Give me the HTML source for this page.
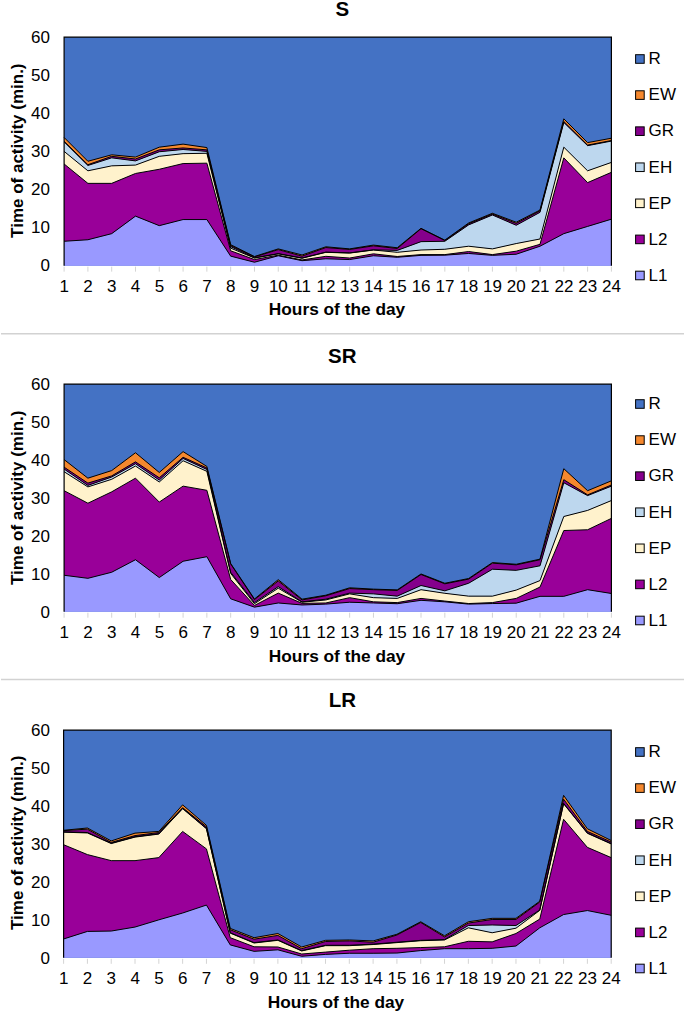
<!DOCTYPE html><html><head><meta charset="utf-8"><style>html,body{margin:0;padding:0;background:#fff;}body{width:685px;height:1013px;overflow:hidden;}svg{display:block;}text{font-family:"Liberation Sans",sans-serif;fill:#000;}</style></head><body>
<svg width="685" height="1013" viewBox="0 0 685 1013">
<g><rect x="64.1" y="37.1" width="547.3" height="228.55" fill="#4472C4"/><polygon points="64.1,241.27 87.9,239.75 111.69,233.65 135.49,216.13 159.28,225.65 183.08,219.56 206.87,219.56 230.67,256.13 254.47,262.22 278.26,255.75 302.06,260.7 325.85,258.79 349.65,259.56 373.44,255.75 397.24,257.27 421.03,255.37 444.83,255.17 468.63,253.46 492.42,255.37 516.22,254.22 540.01,246.22 563.81,233.65 587.6,226.42 611.4,219.18 611.4,265.65 587.6,265.65 563.81,265.65 540.01,265.65 516.22,265.65 492.42,265.65 468.63,265.65 444.83,265.65 421.03,265.65 397.24,265.65 373.44,265.65 349.65,265.65 325.85,265.65 302.06,265.65 278.26,265.65 254.47,265.65 230.67,265.65 206.87,265.65 183.08,265.65 159.28,265.65 135.49,265.65 111.69,265.65 87.9,265.65 64.1,265.65" fill="#9999FF"/><polygon points="64.1,163.95 87.9,183.37 111.69,183.37 135.49,173.47 159.28,169.28 183.08,163.56 206.87,163.18 230.67,250.79 254.47,259.56 278.26,255.17 302.06,259.94 325.85,256.32 349.65,258.03 373.44,253.84 397.24,256.51 421.03,254.6 444.83,254.6 468.63,251.56 492.42,254.6 516.22,251.18 540.01,244.32 563.81,157.85 587.6,182.61 611.4,172.33 611.4,219.18 587.6,226.42 563.81,233.65 540.01,246.22 516.22,254.22 492.42,255.37 468.63,253.46 444.83,255.17 421.03,255.37 397.24,257.27 373.44,255.75 349.65,259.56 325.85,258.79 302.06,260.7 278.26,255.75 254.47,262.22 230.67,256.13 206.87,219.56 183.08,219.56 159.28,225.65 135.49,216.13 111.69,233.65 87.9,239.75 64.1,241.27" fill="#990099"/><polygon points="64.1,151.38 87.9,170.8 111.69,165.85 135.49,165.09 159.28,156.33 183.08,153.66 206.87,153.28 230.67,248.13 254.47,258.03 278.26,253.84 302.06,258.22 325.85,252.32 349.65,253.08 373.44,250.03 397.24,252.32 421.03,250.03 444.83,249.27 468.63,246.22 492.42,248.89 516.22,243.56 540.01,238.99 563.81,147.18 587.6,170.8 611.4,162.42 611.4,172.33 587.6,182.61 563.81,157.85 540.01,244.32 516.22,251.18 492.42,254.6 468.63,251.56 444.83,254.6 421.03,254.6 397.24,256.51 373.44,253.84 349.65,258.03 325.85,256.32 302.06,259.94 278.26,255.17 254.47,259.56 230.67,250.79 206.87,163.18 183.08,163.56 159.28,169.28 135.49,173.47 111.69,183.37 87.9,183.37 64.1,163.95" fill="#FFF2CC"/><polygon points="64.1,141.85 87.9,165.47 111.69,157.85 135.49,160.9 159.28,151.76 183.08,149.47 206.87,151.38 230.67,246.6 254.47,257.84 278.26,253.65 302.06,258.03 325.85,252.13 349.65,252.89 373.44,249.84 397.24,250.41 421.03,241.65 444.83,241.27 468.63,224.89 492.42,214.99 516.22,225.27 540.01,212.32 563.81,122.43 587.6,145.66 611.4,141.09 611.4,162.42 587.6,170.8 563.81,147.18 540.01,238.99 516.22,243.56 492.42,248.89 468.63,246.22 444.83,249.27 421.03,250.03 397.24,252.32 373.44,250.03 349.65,253.08 325.85,252.32 302.06,258.22 278.26,253.84 254.47,258.03 230.67,248.13 206.87,153.28 183.08,153.66 159.28,156.33 135.49,165.09 111.69,165.85 87.9,170.8 64.1,151.38" fill="#BDD7EE"/><polygon points="64.1,141.28 87.9,164.71 111.69,156.33 135.49,158.99 159.28,149.85 183.08,147.95 206.87,149.85 230.67,245.46 254.47,256.89 278.26,249.65 302.06,256.13 325.85,247.56 349.65,249.46 373.44,245.84 397.24,248.51 421.03,228.7 444.83,240.51 468.63,223.75 492.42,214.04 516.22,223.37 540.01,210.8 563.81,121.47 587.6,145.09 611.4,140.52 611.4,141.09 587.6,145.66 563.81,122.43 540.01,212.32 516.22,225.27 492.42,214.99 468.63,224.89 444.83,241.27 421.03,241.65 397.24,250.41 373.44,249.84 349.65,252.89 325.85,252.13 302.06,258.03 278.26,253.65 254.47,257.84 230.67,246.6 206.87,151.38 183.08,149.47 159.28,151.76 135.49,160.9 111.69,157.85 87.9,165.47 64.1,141.85" fill="#85008C"/><polygon points="64.1,137.47 87.9,161.28 111.69,154.8 135.49,157.09 159.28,147.18 183.08,144.14 206.87,147.57 230.67,244.7 254.47,256.51 278.26,248.89 302.06,254.98 325.85,246.79 349.65,248.89 373.44,245.08 397.24,247.75 421.03,228.32 444.83,240.13 468.63,222.99 492.42,213.27 516.22,222.23 540.01,210.04 563.81,118.81 587.6,142.61 611.4,138.23 611.4,140.52 587.6,145.09 563.81,121.47 540.01,210.8 516.22,223.37 492.42,214.04 468.63,223.75 444.83,240.51 421.03,228.7 397.24,248.51 373.44,245.84 349.65,249.46 325.85,247.56 302.06,256.13 278.26,249.65 254.47,256.89 230.67,245.46 206.87,149.85 183.08,147.95 159.28,149.85 135.49,158.99 111.69,156.33 87.9,164.71 64.1,141.28" fill="#F5882E"/><polyline points="64.1,241.27 87.9,239.75 111.69,233.65 135.49,216.13 159.28,225.65 183.08,219.56 206.87,219.56 230.67,256.13 254.47,262.22 278.26,255.75 302.06,260.7 325.85,258.79 349.65,259.56 373.44,255.75 397.24,257.27 421.03,255.37 444.83,255.17 468.63,253.46 492.42,255.37 516.22,254.22 540.01,246.22 563.81,233.65 587.6,226.42 611.4,219.18" fill="none" stroke="#000" stroke-width="1"/><polyline points="64.1,163.95 87.9,183.37 111.69,183.37 135.49,173.47 159.28,169.28 183.08,163.56 206.87,163.18 230.67,250.79 254.47,259.56 278.26,255.17 302.06,259.94 325.85,256.32 349.65,258.03 373.44,253.84 397.24,256.51 421.03,254.6 444.83,254.6 468.63,251.56 492.42,254.6 516.22,251.18 540.01,244.32 563.81,157.85 587.6,182.61 611.4,172.33" fill="none" stroke="#000" stroke-width="1"/><polyline points="64.1,151.38 87.9,170.8 111.69,165.85 135.49,165.09 159.28,156.33 183.08,153.66 206.87,153.28 230.67,248.13 254.47,258.03 278.26,253.84 302.06,258.22 325.85,252.32 349.65,253.08 373.44,250.03 397.24,252.32 421.03,250.03 444.83,249.27 468.63,246.22 492.42,248.89 516.22,243.56 540.01,238.99 563.81,147.18 587.6,170.8 611.4,162.42" fill="none" stroke="#000" stroke-width="1"/><polyline points="64.1,141.85 87.9,165.47 111.69,157.85 135.49,160.9 159.28,151.76 183.08,149.47 206.87,151.38 230.67,246.6 254.47,257.84 278.26,253.65 302.06,258.03 325.85,252.13 349.65,252.89 373.44,249.84 397.24,250.41 421.03,241.65 444.83,241.27 468.63,224.89 492.42,214.99 516.22,225.27 540.01,212.32 563.81,122.43 587.6,145.66 611.4,141.09" fill="none" stroke="#000" stroke-width="1"/><polyline points="64.1,141.28 87.9,164.71 111.69,156.33 135.49,158.99 159.28,149.85 183.08,147.95 206.87,149.85 230.67,245.46 254.47,256.89 278.26,249.65 302.06,256.13 325.85,247.56 349.65,249.46 373.44,245.84 397.24,248.51 421.03,228.7 444.83,240.51 468.63,223.75 492.42,214.04 516.22,223.37 540.01,210.8 563.81,121.47 587.6,145.09 611.4,140.52" fill="none" stroke="#000" stroke-width="1"/><polyline points="64.1,137.47 87.9,161.28 111.69,154.8 135.49,157.09 159.28,147.18 183.08,144.14 206.87,147.57 230.67,244.7 254.47,256.51 278.26,248.89 302.06,254.98 325.85,246.79 349.65,248.89 373.44,245.08 397.24,247.75 421.03,228.32 444.83,240.13 468.63,222.99 492.42,213.27 516.22,222.23 540.01,210.04 563.81,118.81 587.6,142.61 611.4,138.23" fill="none" stroke="#000" stroke-width="1"/><polyline points="64.1,265.65 64.1,37.1 611.4,37.1 611.4,265.65" fill="none" stroke="#000" stroke-width="1.2"/><line x1="64.1" y1="266.65" x2="64.1" y2="271.65" stroke="#d4d4d4" stroke-width="1"/><line x1="87.9" y1="266.65" x2="87.9" y2="271.65" stroke="#d4d4d4" stroke-width="1"/><line x1="111.69" y1="266.65" x2="111.69" y2="271.65" stroke="#d4d4d4" stroke-width="1"/><line x1="135.49" y1="266.65" x2="135.49" y2="271.65" stroke="#d4d4d4" stroke-width="1"/><line x1="159.28" y1="266.65" x2="159.28" y2="271.65" stroke="#d4d4d4" stroke-width="1"/><line x1="183.08" y1="266.65" x2="183.08" y2="271.65" stroke="#d4d4d4" stroke-width="1"/><line x1="206.87" y1="266.65" x2="206.87" y2="271.65" stroke="#d4d4d4" stroke-width="1"/><line x1="230.67" y1="266.65" x2="230.67" y2="271.65" stroke="#d4d4d4" stroke-width="1"/><line x1="254.47" y1="266.65" x2="254.47" y2="271.65" stroke="#d4d4d4" stroke-width="1"/><line x1="278.26" y1="266.65" x2="278.26" y2="271.65" stroke="#d4d4d4" stroke-width="1"/><line x1="302.06" y1="266.65" x2="302.06" y2="271.65" stroke="#d4d4d4" stroke-width="1"/><line x1="325.85" y1="266.65" x2="325.85" y2="271.65" stroke="#d4d4d4" stroke-width="1"/><line x1="349.65" y1="266.65" x2="349.65" y2="271.65" stroke="#d4d4d4" stroke-width="1"/><line x1="373.44" y1="266.65" x2="373.44" y2="271.65" stroke="#d4d4d4" stroke-width="1"/><line x1="397.24" y1="266.65" x2="397.24" y2="271.65" stroke="#d4d4d4" stroke-width="1"/><line x1="421.03" y1="266.65" x2="421.03" y2="271.65" stroke="#d4d4d4" stroke-width="1"/><line x1="444.83" y1="266.65" x2="444.83" y2="271.65" stroke="#d4d4d4" stroke-width="1"/><line x1="468.63" y1="266.65" x2="468.63" y2="271.65" stroke="#d4d4d4" stroke-width="1"/><line x1="492.42" y1="266.65" x2="492.42" y2="271.65" stroke="#d4d4d4" stroke-width="1"/><line x1="516.22" y1="266.65" x2="516.22" y2="271.65" stroke="#d4d4d4" stroke-width="1"/><line x1="540.01" y1="266.65" x2="540.01" y2="271.65" stroke="#d4d4d4" stroke-width="1"/><line x1="563.81" y1="266.65" x2="563.81" y2="271.65" stroke="#d4d4d4" stroke-width="1"/><line x1="587.6" y1="266.65" x2="587.6" y2="271.65" stroke="#d4d4d4" stroke-width="1"/><line x1="611.4" y1="266.65" x2="611.4" y2="271.65" stroke="#d4d4d4" stroke-width="1"/><text x="50" y="271.45" font-size="17" text-anchor="end">0</text><text x="50" y="233.36" font-size="17" text-anchor="end">10</text><text x="50" y="195.27" font-size="17" text-anchor="end">20</text><text x="50" y="157.18" font-size="17" text-anchor="end">30</text><text x="50" y="119.08" font-size="17" text-anchor="end">40</text><text x="50" y="80.99" font-size="17" text-anchor="end">50</text><text x="50" y="42.9" font-size="17" text-anchor="end">60</text><text x="64.2" y="291.65" font-size="17" text-anchor="middle">1</text><text x="88" y="291.65" font-size="17" text-anchor="middle">2</text><text x="111.79" y="291.65" font-size="17" text-anchor="middle">3</text><text x="135.59" y="291.65" font-size="17" text-anchor="middle">4</text><text x="159.38" y="291.65" font-size="17" text-anchor="middle">5</text><text x="183.18" y="291.65" font-size="17" text-anchor="middle">6</text><text x="206.97" y="291.65" font-size="17" text-anchor="middle">7</text><text x="230.77" y="291.65" font-size="17" text-anchor="middle">8</text><text x="254.57" y="291.65" font-size="17" text-anchor="middle">9</text><text x="278.36" y="291.65" font-size="17" text-anchor="middle">10</text><text x="302.16" y="291.65" font-size="17" text-anchor="middle">11</text><text x="325.95" y="291.65" font-size="17" text-anchor="middle">12</text><text x="349.75" y="291.65" font-size="17" text-anchor="middle">13</text><text x="373.54" y="291.65" font-size="17" text-anchor="middle">14</text><text x="397.34" y="291.65" font-size="17" text-anchor="middle">15</text><text x="421.13" y="291.65" font-size="17" text-anchor="middle">16</text><text x="444.93" y="291.65" font-size="17" text-anchor="middle">17</text><text x="468.73" y="291.65" font-size="17" text-anchor="middle">18</text><text x="492.52" y="291.65" font-size="17" text-anchor="middle">19</text><text x="516.32" y="291.65" font-size="17" text-anchor="middle">20</text><text x="540.11" y="291.65" font-size="17" text-anchor="middle">21</text><text x="563.91" y="291.65" font-size="17" text-anchor="middle">22</text><text x="587.7" y="291.65" font-size="17" text-anchor="middle">23</text><text x="611.5" y="291.65" font-size="17" text-anchor="middle">24</text><text x="337" y="315.2" font-size="17.3" font-weight="bold" text-anchor="middle">Hours of the day</text><text transform="translate(23.3,150.7) rotate(-90)" font-size="17" font-weight="bold" text-anchor="middle">Time of activity (min.)</text><text x="342.3" y="15.9" font-size="20.5" font-weight="bold" text-anchor="middle">S</text><rect x="635.6" y="54.7" width="8.6" height="8.6" fill="#4472C4" stroke="#000" stroke-width="1"/><text x="648.6" y="64.3" font-size="17">R</text><rect x="635.6" y="90.78" width="8.6" height="8.6" fill="#F5882E" stroke="#000" stroke-width="1"/><text x="648.6" y="100.38" font-size="17">EW</text><rect x="635.6" y="126.86" width="8.6" height="8.6" fill="#85008C" stroke="#000" stroke-width="1"/><text x="648.6" y="136.46" font-size="17">GR</text><rect x="635.6" y="162.94" width="8.6" height="8.6" fill="#BDD7EE" stroke="#000" stroke-width="1"/><text x="648.6" y="172.54" font-size="17">EH</text><rect x="635.6" y="199.02" width="8.6" height="8.6" fill="#FFF2CC" stroke="#000" stroke-width="1"/><text x="648.6" y="208.62" font-size="17">EP</text><rect x="635.6" y="235.1" width="8.6" height="8.6" fill="#990099" stroke="#000" stroke-width="1"/><text x="648.6" y="244.7" font-size="17">L2</text><rect x="635.6" y="271.18" width="8.6" height="8.6" fill="#9999FF" stroke="#000" stroke-width="1"/><text x="648.6" y="280.78" font-size="17">L1</text></g>
<g><rect x="64.1" y="384.1" width="547.3" height="227.6" fill="#4472C4"/><polygon points="64.1,575.28 87.9,578.32 111.69,572.25 135.49,559.73 159.28,577.56 183.08,561.25 206.87,556.7 230.67,598.8 254.47,607.15 278.26,602.98 302.06,604.99 325.85,604.11 349.65,602.22 373.44,602.98 397.24,603.73 421.03,600.32 444.83,601.84 468.63,604.11 492.42,603.54 516.22,603.17 540.01,596.34 563.81,596.34 587.6,589.7 611.4,593.49 611.4,611.7 587.6,611.7 563.81,611.7 540.01,611.7 516.22,611.7 492.42,611.7 468.63,611.7 444.83,611.7 421.03,611.7 397.24,611.7 373.44,611.7 349.65,611.7 325.85,611.7 302.06,611.7 278.26,611.7 254.47,611.7 230.67,611.7 206.87,611.7 183.08,611.7 159.28,611.7 135.49,611.7 111.69,611.7 87.9,611.7 64.1,611.7" fill="#9999FF"/><polygon points="64.1,490.69 87.9,503.21 111.69,491.83 135.49,478.17 159.28,502.07 183.08,486.14 206.87,490.31 230.67,579.46 254.47,605.44 278.26,593.11 302.06,603.35 325.85,602.98 349.65,597.66 373.44,601.84 397.24,602.6 421.03,598.42 444.83,601.08 468.63,603.54 492.42,602.6 516.22,598.42 540.01,587.04 563.81,530.52 587.6,529.76 611.4,518.38 611.4,593.49 587.6,589.7 563.81,596.34 540.01,596.34 516.22,603.17 492.42,603.54 468.63,604.11 444.83,601.84 421.03,600.32 397.24,603.73 373.44,602.98 349.65,602.22 325.85,604.11 302.06,604.99 278.26,602.98 254.47,607.15 230.67,598.8 206.87,556.7 183.08,561.25 159.28,577.56 135.49,559.73 111.69,572.25 87.9,578.32 64.1,575.28" fill="#990099"/><polygon points="64.1,471.73 87.9,486.9 111.69,479.31 135.49,466.04 159.28,481.97 183.08,460.73 206.87,471.35 230.67,573.39 254.47,603.73 278.26,588.18 302.06,602.22 325.85,599.94 349.65,593.87 373.44,597.66 397.24,598.42 421.03,589.7 444.83,593.3 468.63,596.15 492.42,596.15 516.22,590.08 540.01,580.59 563.81,516.49 587.6,510.42 611.4,500.56 611.4,518.38 587.6,529.76 563.81,530.52 540.01,587.04 516.22,598.42 492.42,602.6 468.63,603.54 444.83,601.08 421.03,598.42 397.24,602.6 373.44,601.84 349.65,597.66 325.85,602.98 302.06,603.35 278.26,593.11 254.47,605.44 230.67,579.46 206.87,490.31 183.08,486.14 159.28,502.07 135.49,478.17 111.69,491.83 87.9,503.21 64.1,490.69" fill="#FFF2CC"/><polygon points="64.1,469.07 87.9,485.38 111.69,477.04 135.49,463.76 159.28,480.07 183.08,458.45 206.87,469.45 230.67,572.25 254.47,602.6 278.26,586.66 302.06,601.84 325.85,599.18 349.65,593.11 373.44,593.87 397.24,596.15 421.03,585.53 444.83,590.84 468.63,583.25 492.42,569.21 516.22,570.35 540.01,565.8 563.81,482.73 587.6,495.62 611.4,486.14 611.4,500.56 587.6,510.42 563.81,516.49 540.01,580.59 516.22,590.08 492.42,596.15 468.63,596.15 444.83,593.3 421.03,589.7 397.24,598.42 373.44,597.66 349.65,593.87 325.85,599.94 302.06,602.22 278.26,588.18 254.47,603.73 230.67,573.39 206.87,471.35 183.08,460.73 159.28,481.97 135.49,466.04 111.69,479.31 87.9,486.9 64.1,471.73" fill="#BDD7EE"/><polygon points="64.1,467.17 87.9,483.11 111.69,475.9 135.49,461.86 159.28,477.8 183.08,457.31 206.87,467.93 230.67,563.9 254.47,599.56 278.26,580.97 302.06,599.94 325.85,595.77 349.65,588.56 373.44,589.7 397.24,590.46 421.03,574.53 444.83,583.82 468.63,579.08 492.42,563.15 516.22,564.85 540.01,559.73 563.81,479.69 587.6,494.87 611.4,485 611.4,486.14 587.6,495.62 563.81,482.73 540.01,565.8 516.22,570.35 492.42,569.21 468.63,583.25 444.83,590.84 421.03,585.53 397.24,596.15 373.44,593.87 349.65,593.11 325.85,599.18 302.06,601.84 278.26,586.66 254.47,602.6 230.67,572.25 206.87,469.45 183.08,458.45 159.28,480.07 135.49,463.76 111.69,477.04 87.9,485.38 64.1,469.07" fill="#85008C"/><polygon points="64.1,459.59 87.9,478.17 111.69,470.59 135.49,452.76 159.28,472.48 183.08,451.62 206.87,466.42 230.67,563.52 254.47,598.99 278.26,579.65 302.06,599.18 325.85,595.2 349.65,587.8 373.44,589.13 397.24,589.89 421.03,573.96 444.83,583.25 468.63,578.51 492.42,562.58 516.22,564.28 540.01,559.16 563.81,468.69 587.6,490.69 611.4,480.83 611.4,485 587.6,494.87 563.81,479.69 540.01,559.73 516.22,564.85 492.42,563.15 468.63,579.08 444.83,583.82 421.03,574.53 397.24,590.46 373.44,589.7 349.65,588.56 325.85,595.77 302.06,599.94 278.26,580.97 254.47,599.56 230.67,563.9 206.87,467.93 183.08,457.31 159.28,477.8 135.49,461.86 111.69,475.9 87.9,483.11 64.1,467.17" fill="#F5882E"/><polyline points="64.1,575.28 87.9,578.32 111.69,572.25 135.49,559.73 159.28,577.56 183.08,561.25 206.87,556.7 230.67,598.8 254.47,607.15 278.26,602.98 302.06,604.99 325.85,604.11 349.65,602.22 373.44,602.98 397.24,603.73 421.03,600.32 444.83,601.84 468.63,604.11 492.42,603.54 516.22,603.17 540.01,596.34 563.81,596.34 587.6,589.7 611.4,593.49" fill="none" stroke="#000" stroke-width="1"/><polyline points="64.1,490.69 87.9,503.21 111.69,491.83 135.49,478.17 159.28,502.07 183.08,486.14 206.87,490.31 230.67,579.46 254.47,605.44 278.26,593.11 302.06,603.35 325.85,602.98 349.65,597.66 373.44,601.84 397.24,602.6 421.03,598.42 444.83,601.08 468.63,603.54 492.42,602.6 516.22,598.42 540.01,587.04 563.81,530.52 587.6,529.76 611.4,518.38" fill="none" stroke="#000" stroke-width="1"/><polyline points="64.1,471.73 87.9,486.9 111.69,479.31 135.49,466.04 159.28,481.97 183.08,460.73 206.87,471.35 230.67,573.39 254.47,603.73 278.26,588.18 302.06,602.22 325.85,599.94 349.65,593.87 373.44,597.66 397.24,598.42 421.03,589.7 444.83,593.3 468.63,596.15 492.42,596.15 516.22,590.08 540.01,580.59 563.81,516.49 587.6,510.42 611.4,500.56" fill="none" stroke="#000" stroke-width="1"/><polyline points="64.1,469.07 87.9,485.38 111.69,477.04 135.49,463.76 159.28,480.07 183.08,458.45 206.87,469.45 230.67,572.25 254.47,602.6 278.26,586.66 302.06,601.84 325.85,599.18 349.65,593.11 373.44,593.87 397.24,596.15 421.03,585.53 444.83,590.84 468.63,583.25 492.42,569.21 516.22,570.35 540.01,565.8 563.81,482.73 587.6,495.62 611.4,486.14" fill="none" stroke="#000" stroke-width="1"/><polyline points="64.1,467.17 87.9,483.11 111.69,475.9 135.49,461.86 159.28,477.8 183.08,457.31 206.87,467.93 230.67,563.9 254.47,599.56 278.26,580.97 302.06,599.94 325.85,595.77 349.65,588.56 373.44,589.7 397.24,590.46 421.03,574.53 444.83,583.82 468.63,579.08 492.42,563.15 516.22,564.85 540.01,559.73 563.81,479.69 587.6,494.87 611.4,485" fill="none" stroke="#000" stroke-width="1"/><polyline points="64.1,459.59 87.9,478.17 111.69,470.59 135.49,452.76 159.28,472.48 183.08,451.62 206.87,466.42 230.67,563.52 254.47,598.99 278.26,579.65 302.06,599.18 325.85,595.2 349.65,587.8 373.44,589.13 397.24,589.89 421.03,573.96 444.83,583.25 468.63,578.51 492.42,562.58 516.22,564.28 540.01,559.16 563.81,468.69 587.6,490.69 611.4,480.83" fill="none" stroke="#000" stroke-width="1"/><polyline points="64.1,611.7 64.1,384.1 611.4,384.1 611.4,611.7" fill="none" stroke="#000" stroke-width="1.2"/><line x1="64.1" y1="612.7" x2="64.1" y2="617.7" stroke="#d4d4d4" stroke-width="1"/><line x1="87.9" y1="612.7" x2="87.9" y2="617.7" stroke="#d4d4d4" stroke-width="1"/><line x1="111.69" y1="612.7" x2="111.69" y2="617.7" stroke="#d4d4d4" stroke-width="1"/><line x1="135.49" y1="612.7" x2="135.49" y2="617.7" stroke="#d4d4d4" stroke-width="1"/><line x1="159.28" y1="612.7" x2="159.28" y2="617.7" stroke="#d4d4d4" stroke-width="1"/><line x1="183.08" y1="612.7" x2="183.08" y2="617.7" stroke="#d4d4d4" stroke-width="1"/><line x1="206.87" y1="612.7" x2="206.87" y2="617.7" stroke="#d4d4d4" stroke-width="1"/><line x1="230.67" y1="612.7" x2="230.67" y2="617.7" stroke="#d4d4d4" stroke-width="1"/><line x1="254.47" y1="612.7" x2="254.47" y2="617.7" stroke="#d4d4d4" stroke-width="1"/><line x1="278.26" y1="612.7" x2="278.26" y2="617.7" stroke="#d4d4d4" stroke-width="1"/><line x1="302.06" y1="612.7" x2="302.06" y2="617.7" stroke="#d4d4d4" stroke-width="1"/><line x1="325.85" y1="612.7" x2="325.85" y2="617.7" stroke="#d4d4d4" stroke-width="1"/><line x1="349.65" y1="612.7" x2="349.65" y2="617.7" stroke="#d4d4d4" stroke-width="1"/><line x1="373.44" y1="612.7" x2="373.44" y2="617.7" stroke="#d4d4d4" stroke-width="1"/><line x1="397.24" y1="612.7" x2="397.24" y2="617.7" stroke="#d4d4d4" stroke-width="1"/><line x1="421.03" y1="612.7" x2="421.03" y2="617.7" stroke="#d4d4d4" stroke-width="1"/><line x1="444.83" y1="612.7" x2="444.83" y2="617.7" stroke="#d4d4d4" stroke-width="1"/><line x1="468.63" y1="612.7" x2="468.63" y2="617.7" stroke="#d4d4d4" stroke-width="1"/><line x1="492.42" y1="612.7" x2="492.42" y2="617.7" stroke="#d4d4d4" stroke-width="1"/><line x1="516.22" y1="612.7" x2="516.22" y2="617.7" stroke="#d4d4d4" stroke-width="1"/><line x1="540.01" y1="612.7" x2="540.01" y2="617.7" stroke="#d4d4d4" stroke-width="1"/><line x1="563.81" y1="612.7" x2="563.81" y2="617.7" stroke="#d4d4d4" stroke-width="1"/><line x1="587.6" y1="612.7" x2="587.6" y2="617.7" stroke="#d4d4d4" stroke-width="1"/><line x1="611.4" y1="612.7" x2="611.4" y2="617.7" stroke="#d4d4d4" stroke-width="1"/><text x="50" y="617.5" font-size="17" text-anchor="end">0</text><text x="50" y="579.57" font-size="17" text-anchor="end">10</text><text x="50" y="541.63" font-size="17" text-anchor="end">20</text><text x="50" y="503.7" font-size="17" text-anchor="end">30</text><text x="50" y="465.77" font-size="17" text-anchor="end">40</text><text x="50" y="427.83" font-size="17" text-anchor="end">50</text><text x="50" y="389.9" font-size="17" text-anchor="end">60</text><text x="64.2" y="637.7" font-size="17" text-anchor="middle">1</text><text x="88" y="637.7" font-size="17" text-anchor="middle">2</text><text x="111.79" y="637.7" font-size="17" text-anchor="middle">3</text><text x="135.59" y="637.7" font-size="17" text-anchor="middle">4</text><text x="159.38" y="637.7" font-size="17" text-anchor="middle">5</text><text x="183.18" y="637.7" font-size="17" text-anchor="middle">6</text><text x="206.97" y="637.7" font-size="17" text-anchor="middle">7</text><text x="230.77" y="637.7" font-size="17" text-anchor="middle">8</text><text x="254.57" y="637.7" font-size="17" text-anchor="middle">9</text><text x="278.36" y="637.7" font-size="17" text-anchor="middle">10</text><text x="302.16" y="637.7" font-size="17" text-anchor="middle">11</text><text x="325.95" y="637.7" font-size="17" text-anchor="middle">12</text><text x="349.75" y="637.7" font-size="17" text-anchor="middle">13</text><text x="373.54" y="637.7" font-size="17" text-anchor="middle">14</text><text x="397.34" y="637.7" font-size="17" text-anchor="middle">15</text><text x="421.13" y="637.7" font-size="17" text-anchor="middle">16</text><text x="444.93" y="637.7" font-size="17" text-anchor="middle">17</text><text x="468.73" y="637.7" font-size="17" text-anchor="middle">18</text><text x="492.52" y="637.7" font-size="17" text-anchor="middle">19</text><text x="516.32" y="637.7" font-size="17" text-anchor="middle">20</text><text x="540.11" y="637.7" font-size="17" text-anchor="middle">21</text><text x="563.91" y="637.7" font-size="17" text-anchor="middle">22</text><text x="587.7" y="637.7" font-size="17" text-anchor="middle">23</text><text x="611.5" y="637.7" font-size="17" text-anchor="middle">24</text><text x="337" y="662" font-size="17.3" font-weight="bold" text-anchor="middle">Hours of the day</text><text transform="translate(22.6,497.8) rotate(-90)" font-size="17" font-weight="bold" text-anchor="middle">Time of activity (min.)</text><text x="342.3" y="362.6" font-size="20.5" font-weight="bold" text-anchor="middle">SR</text><rect x="635.6" y="399.7" width="8.6" height="8.6" fill="#4472C4" stroke="#000" stroke-width="1"/><text x="648.6" y="409.3" font-size="17">R</text><rect x="635.6" y="435.78" width="8.6" height="8.6" fill="#F5882E" stroke="#000" stroke-width="1"/><text x="648.6" y="445.38" font-size="17">EW</text><rect x="635.6" y="471.86" width="8.6" height="8.6" fill="#85008C" stroke="#000" stroke-width="1"/><text x="648.6" y="481.46" font-size="17">GR</text><rect x="635.6" y="507.94" width="8.6" height="8.6" fill="#BDD7EE" stroke="#000" stroke-width="1"/><text x="648.6" y="517.54" font-size="17">EH</text><rect x="635.6" y="544.02" width="8.6" height="8.6" fill="#FFF2CC" stroke="#000" stroke-width="1"/><text x="648.6" y="553.62" font-size="17">EP</text><rect x="635.6" y="580.1" width="8.6" height="8.6" fill="#990099" stroke="#000" stroke-width="1"/><text x="648.6" y="589.7" font-size="17">L2</text><rect x="635.6" y="616.18" width="8.6" height="8.6" fill="#9999FF" stroke="#000" stroke-width="1"/><text x="648.6" y="625.78" font-size="17">L1</text></g>
<g><rect x="63.6" y="730.1" width="547.6" height="227.7" fill="#4472C4"/><polygon points="63.6,938.98 87.41,931.42 111.22,931.05 135.03,927.06 158.83,919.85 182.64,913.02 206.45,905.05 230.26,944.9 254.07,951.35 277.88,949.83 301.69,956.28 325.5,954.38 349.3,953.25 373.11,953.25 396.92,953.06 420.73,950.59 444.54,948.69 468.35,948.69 492.16,948.31 515.97,946.04 539.77,927.82 563.58,914.54 587.39,910.55 611.2,915.3 611.2,957.8 587.39,957.8 563.58,957.8 539.77,957.8 515.97,957.8 492.16,957.8 468.35,957.8 444.54,957.8 420.73,957.8 396.92,957.8 373.11,957.8 349.3,957.8 325.5,957.8 301.69,957.8 277.88,957.8 254.07,957.8 230.26,957.8 206.45,957.8 182.64,957.8 158.83,957.8 135.03,957.8 111.22,957.8 87.41,957.8 63.6,957.8" fill="#9999FF"/><polygon points="63.6,844.71 87.41,854.58 111.22,860.65 135.03,860.65 158.83,857.61 182.64,831.43 206.45,848.88 230.26,937.69 254.07,946.79 277.88,946.98 301.69,954 325.5,952.11 349.3,950.21 373.11,948.69 396.92,948.31 420.73,947.55 444.54,946.79 468.35,941.29 492.16,941.86 515.97,933.51 539.77,919.09 563.58,819.28 587.39,847.37 611.2,857.61 611.2,915.3 587.39,910.55 563.58,914.54 539.77,927.82 515.97,946.04 492.16,948.31 468.35,948.69 444.54,948.69 420.73,950.59 396.92,953.06 373.11,953.25 349.3,953.25 325.5,954.38 301.69,956.28 277.88,949.83 254.07,951.35 230.26,944.9 206.45,905.05 182.64,913.02 158.83,919.85 135.03,927.06 111.22,931.05 87.41,931.42 63.6,938.98" fill="#990099"/><polygon points="63.6,832.19 87.41,832.94 111.22,843.57 135.03,837.12 158.83,834.08 182.64,808.66 206.45,828.77 230.26,933.13 254.07,943 277.88,940.34 301.69,950.97 325.5,945.66 349.3,945.66 373.11,944.52 396.92,942.62 420.73,940.72 444.54,939.96 468.35,927.82 492.16,932.75 515.97,928.2 539.77,910.36 563.58,803.72 587.39,833.32 611.2,843.95 611.2,857.61 587.39,847.37 563.58,819.28 539.77,919.09 515.97,933.51 492.16,941.86 468.35,941.29 444.54,946.79 420.73,947.55 396.92,948.31 373.11,948.69 349.3,950.21 325.5,952.11 301.69,954 277.88,946.98 254.07,946.79 230.26,937.69 206.45,848.88 182.64,831.43 158.83,857.61 135.03,860.65 111.22,860.65 87.41,854.58 63.6,844.71" fill="#FFF2CC"/><polygon points="63.6,831.81 87.41,832.56 111.22,843.19 135.03,836.74 158.83,833.7 182.64,808.28 206.45,828.39 230.26,932.75 254.07,942.62 277.88,939.96 301.69,950.59 325.5,945.28 349.3,945.28 373.11,944.14 396.92,942.24 420.73,940.34 444.54,939.58 468.35,925.54 492.16,924.97 515.97,925.54 539.77,909.98 563.58,803.34 587.39,832.94 611.2,843.57 611.2,843.95 587.39,833.32 563.58,803.72 539.77,910.36 515.97,928.2 492.16,932.75 468.35,927.82 444.54,939.96 420.73,940.72 396.92,942.62 373.11,944.52 349.3,945.66 325.5,945.66 301.69,950.97 277.88,940.34 254.07,943 230.26,933.13 206.45,828.77 182.64,808.66 158.83,834.08 135.03,837.12 111.22,843.57 87.41,832.94 63.6,832.19" fill="#BDD7EE"/><polygon points="63.6,830.67 87.41,829.15 111.22,842.43 135.03,835.6 158.83,832.56 182.64,807.71 206.45,826.87 230.26,929.72 254.07,939.2 277.88,935.41 301.69,948.69 325.5,941.48 349.3,940.91 373.11,942.24 396.92,935.03 420.73,922.51 444.54,936.93 468.35,923.08 492.16,919.47 515.97,919.47 539.77,902.01 563.58,799.17 587.39,831.43 611.2,842.05 611.2,843.57 587.39,832.94 563.58,803.34 539.77,909.98 515.97,925.54 492.16,924.97 468.35,925.54 444.54,939.58 420.73,940.34 396.92,942.24 373.11,944.14 349.3,945.28 325.5,945.28 301.69,950.59 277.88,939.96 254.07,942.62 230.26,932.75 206.45,828.39 182.64,808.28 158.83,833.7 135.03,836.74 111.22,843.19 87.41,832.56 63.6,831.81" fill="#85008C"/><polygon points="63.6,830.29 87.41,828.01 111.22,840.91 135.03,833.13 158.83,831.43 182.64,804.86 206.45,825.35 230.26,928.39 254.07,937.69 277.88,933.51 301.69,946.98 325.5,940.34 349.3,939.96 373.11,940.91 396.92,934.27 420.73,921.75 444.54,935.79 468.35,921.75 492.16,918.33 515.97,918.33 539.77,901.25 563.58,795.37 587.39,828.77 611.2,840.53 611.2,842.05 587.39,831.43 563.58,799.17 539.77,902.01 515.97,919.47 492.16,919.47 468.35,923.08 444.54,936.93 420.73,922.51 396.92,935.03 373.11,942.24 349.3,940.91 325.5,941.48 301.69,948.69 277.88,935.41 254.07,939.2 230.26,929.72 206.45,826.87 182.64,807.71 158.83,832.56 135.03,835.6 111.22,842.43 87.41,829.15 63.6,830.67" fill="#F5882E"/><polyline points="63.6,938.98 87.41,931.42 111.22,931.05 135.03,927.06 158.83,919.85 182.64,913.02 206.45,905.05 230.26,944.9 254.07,951.35 277.88,949.83 301.69,956.28 325.5,954.38 349.3,953.25 373.11,953.25 396.92,953.06 420.73,950.59 444.54,948.69 468.35,948.69 492.16,948.31 515.97,946.04 539.77,927.82 563.58,914.54 587.39,910.55 611.2,915.3" fill="none" stroke="#000" stroke-width="1"/><polyline points="63.6,844.71 87.41,854.58 111.22,860.65 135.03,860.65 158.83,857.61 182.64,831.43 206.45,848.88 230.26,937.69 254.07,946.79 277.88,946.98 301.69,954 325.5,952.11 349.3,950.21 373.11,948.69 396.92,948.31 420.73,947.55 444.54,946.79 468.35,941.29 492.16,941.86 515.97,933.51 539.77,919.09 563.58,819.28 587.39,847.37 611.2,857.61" fill="none" stroke="#000" stroke-width="1"/><polyline points="63.6,832.19 87.41,832.94 111.22,843.57 135.03,837.12 158.83,834.08 182.64,808.66 206.45,828.77 230.26,933.13 254.07,943 277.88,940.34 301.69,950.97 325.5,945.66 349.3,945.66 373.11,944.52 396.92,942.62 420.73,940.72 444.54,939.96 468.35,927.82 492.16,932.75 515.97,928.2 539.77,910.36 563.58,803.72 587.39,833.32 611.2,843.95" fill="none" stroke="#000" stroke-width="1"/><polyline points="63.6,831.81 87.41,832.56 111.22,843.19 135.03,836.74 158.83,833.7 182.64,808.28 206.45,828.39 230.26,932.75 254.07,942.62 277.88,939.96 301.69,950.59 325.5,945.28 349.3,945.28 373.11,944.14 396.92,942.24 420.73,940.34 444.54,939.58 468.35,925.54 492.16,924.97 515.97,925.54 539.77,909.98 563.58,803.34 587.39,832.94 611.2,843.57" fill="none" stroke="#000" stroke-width="1"/><polyline points="63.6,830.67 87.41,829.15 111.22,842.43 135.03,835.6 158.83,832.56 182.64,807.71 206.45,826.87 230.26,929.72 254.07,939.2 277.88,935.41 301.69,948.69 325.5,941.48 349.3,940.91 373.11,942.24 396.92,935.03 420.73,922.51 444.54,936.93 468.35,923.08 492.16,919.47 515.97,919.47 539.77,902.01 563.58,799.17 587.39,831.43 611.2,842.05" fill="none" stroke="#000" stroke-width="1"/><polyline points="63.6,830.29 87.41,828.01 111.22,840.91 135.03,833.13 158.83,831.43 182.64,804.86 206.45,825.35 230.26,928.39 254.07,937.69 277.88,933.51 301.69,946.98 325.5,940.34 349.3,939.96 373.11,940.91 396.92,934.27 420.73,921.75 444.54,935.79 468.35,921.75 492.16,918.33 515.97,918.33 539.77,901.25 563.58,795.37 587.39,828.77 611.2,840.53" fill="none" stroke="#000" stroke-width="1"/><polyline points="63.6,957.8 63.6,730.1 611.2,730.1 611.2,957.8" fill="none" stroke="#000" stroke-width="1.2"/><line x1="63.6" y1="958.8" x2="63.6" y2="963.8" stroke="#d4d4d4" stroke-width="1"/><line x1="87.41" y1="958.8" x2="87.41" y2="963.8" stroke="#d4d4d4" stroke-width="1"/><line x1="111.22" y1="958.8" x2="111.22" y2="963.8" stroke="#d4d4d4" stroke-width="1"/><line x1="135.03" y1="958.8" x2="135.03" y2="963.8" stroke="#d4d4d4" stroke-width="1"/><line x1="158.83" y1="958.8" x2="158.83" y2="963.8" stroke="#d4d4d4" stroke-width="1"/><line x1="182.64" y1="958.8" x2="182.64" y2="963.8" stroke="#d4d4d4" stroke-width="1"/><line x1="206.45" y1="958.8" x2="206.45" y2="963.8" stroke="#d4d4d4" stroke-width="1"/><line x1="230.26" y1="958.8" x2="230.26" y2="963.8" stroke="#d4d4d4" stroke-width="1"/><line x1="254.07" y1="958.8" x2="254.07" y2="963.8" stroke="#d4d4d4" stroke-width="1"/><line x1="277.88" y1="958.8" x2="277.88" y2="963.8" stroke="#d4d4d4" stroke-width="1"/><line x1="301.69" y1="958.8" x2="301.69" y2="963.8" stroke="#d4d4d4" stroke-width="1"/><line x1="325.5" y1="958.8" x2="325.5" y2="963.8" stroke="#d4d4d4" stroke-width="1"/><line x1="349.3" y1="958.8" x2="349.3" y2="963.8" stroke="#d4d4d4" stroke-width="1"/><line x1="373.11" y1="958.8" x2="373.11" y2="963.8" stroke="#d4d4d4" stroke-width="1"/><line x1="396.92" y1="958.8" x2="396.92" y2="963.8" stroke="#d4d4d4" stroke-width="1"/><line x1="420.73" y1="958.8" x2="420.73" y2="963.8" stroke="#d4d4d4" stroke-width="1"/><line x1="444.54" y1="958.8" x2="444.54" y2="963.8" stroke="#d4d4d4" stroke-width="1"/><line x1="468.35" y1="958.8" x2="468.35" y2="963.8" stroke="#d4d4d4" stroke-width="1"/><line x1="492.16" y1="958.8" x2="492.16" y2="963.8" stroke="#d4d4d4" stroke-width="1"/><line x1="515.97" y1="958.8" x2="515.97" y2="963.8" stroke="#d4d4d4" stroke-width="1"/><line x1="539.77" y1="958.8" x2="539.77" y2="963.8" stroke="#d4d4d4" stroke-width="1"/><line x1="563.58" y1="958.8" x2="563.58" y2="963.8" stroke="#d4d4d4" stroke-width="1"/><line x1="587.39" y1="958.8" x2="587.39" y2="963.8" stroke="#d4d4d4" stroke-width="1"/><line x1="611.2" y1="958.8" x2="611.2" y2="963.8" stroke="#d4d4d4" stroke-width="1"/><text x="50" y="963.6" font-size="17" text-anchor="end">0</text><text x="50" y="925.65" font-size="17" text-anchor="end">10</text><text x="50" y="887.7" font-size="17" text-anchor="end">20</text><text x="50" y="849.75" font-size="17" text-anchor="end">30</text><text x="50" y="811.8" font-size="17" text-anchor="end">40</text><text x="50" y="773.85" font-size="17" text-anchor="end">50</text><text x="50" y="735.9" font-size="17" text-anchor="end">60</text><text x="63.7" y="983.8" font-size="17" text-anchor="middle">1</text><text x="87.51" y="983.8" font-size="17" text-anchor="middle">2</text><text x="111.32" y="983.8" font-size="17" text-anchor="middle">3</text><text x="135.13" y="983.8" font-size="17" text-anchor="middle">4</text><text x="158.93" y="983.8" font-size="17" text-anchor="middle">5</text><text x="182.74" y="983.8" font-size="17" text-anchor="middle">6</text><text x="206.55" y="983.8" font-size="17" text-anchor="middle">7</text><text x="230.36" y="983.8" font-size="17" text-anchor="middle">8</text><text x="254.17" y="983.8" font-size="17" text-anchor="middle">9</text><text x="277.98" y="983.8" font-size="17" text-anchor="middle">10</text><text x="301.79" y="983.8" font-size="17" text-anchor="middle">11</text><text x="325.6" y="983.8" font-size="17" text-anchor="middle">12</text><text x="349.4" y="983.8" font-size="17" text-anchor="middle">13</text><text x="373.21" y="983.8" font-size="17" text-anchor="middle">14</text><text x="397.02" y="983.8" font-size="17" text-anchor="middle">15</text><text x="420.83" y="983.8" font-size="17" text-anchor="middle">16</text><text x="444.64" y="983.8" font-size="17" text-anchor="middle">17</text><text x="468.45" y="983.8" font-size="17" text-anchor="middle">18</text><text x="492.26" y="983.8" font-size="17" text-anchor="middle">19</text><text x="516.07" y="983.8" font-size="17" text-anchor="middle">20</text><text x="539.87" y="983.8" font-size="17" text-anchor="middle">21</text><text x="563.68" y="983.8" font-size="17" text-anchor="middle">22</text><text x="587.49" y="983.8" font-size="17" text-anchor="middle">23</text><text x="611.3" y="983.8" font-size="17" text-anchor="middle">24</text><text x="336" y="1008.2" font-size="17.3" font-weight="bold" text-anchor="middle">Hours of the day</text><text transform="translate(22.8,842.8) rotate(-90)" font-size="17" font-weight="bold" text-anchor="middle">Time of activity (min.)</text><text x="342.3" y="707.4" font-size="20.5" font-weight="bold" text-anchor="middle">LR</text><rect x="635.6" y="747.7" width="8.6" height="8.6" fill="#4472C4" stroke="#000" stroke-width="1"/><text x="648.6" y="757.3" font-size="17">R</text><rect x="635.6" y="783.78" width="8.6" height="8.6" fill="#F5882E" stroke="#000" stroke-width="1"/><text x="648.6" y="793.38" font-size="17">EW</text><rect x="635.6" y="819.86" width="8.6" height="8.6" fill="#85008C" stroke="#000" stroke-width="1"/><text x="648.6" y="829.46" font-size="17">GR</text><rect x="635.6" y="855.94" width="8.6" height="8.6" fill="#BDD7EE" stroke="#000" stroke-width="1"/><text x="648.6" y="865.54" font-size="17">EH</text><rect x="635.6" y="892.02" width="8.6" height="8.6" fill="#FFF2CC" stroke="#000" stroke-width="1"/><text x="648.6" y="901.62" font-size="17">EP</text><rect x="635.6" y="928.1" width="8.6" height="8.6" fill="#990099" stroke="#000" stroke-width="1"/><text x="648.6" y="937.7" font-size="17">L2</text><rect x="635.6" y="964.18" width="8.6" height="8.6" fill="#9999FF" stroke="#000" stroke-width="1"/><text x="648.6" y="973.78" font-size="17">L1</text></g>
<line x1="1" y1="333.7" x2="684" y2="333.7" stroke="#d2d2d2" stroke-width="1.4"/>
<line x1="1" y1="679.5" x2="684" y2="679.5" stroke="#d2d2d2" stroke-width="1.4"/>
</svg></body></html>
